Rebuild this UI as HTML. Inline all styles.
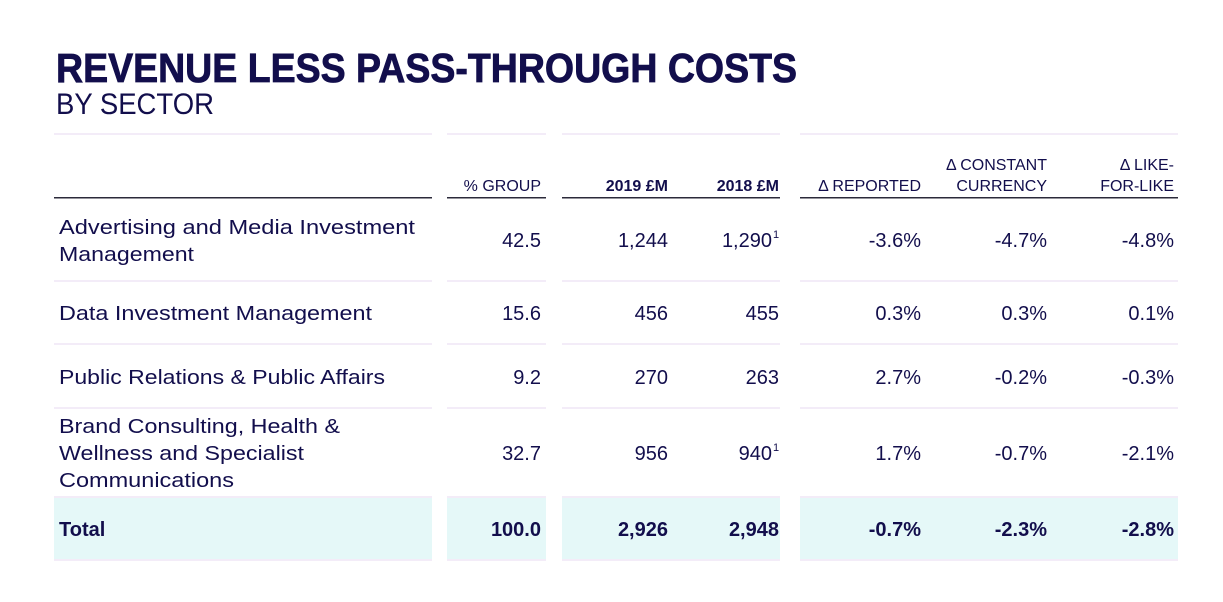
<!DOCTYPE html>
<html><head><meta charset="utf-8"><style>
html,body{margin:0;padding:0;background:#fff;}
svg{display:block;}
text{font-family:"Liberation Sans",sans-serif;fill:#120e4c;}
.h{font-size:16px;}
.b{font-size:20px;}
.r{text-anchor:end;}
.bold{font-weight:bold;}
</style></head><body>
<svg width="1223" height="602" viewBox="0 0 1223 602" xmlns="http://www.w3.org/2000/svg">
<text x="56" y="82" font-size="41" font-weight="bold" textLength="741" lengthAdjust="spacingAndGlyphs" stroke="#120e4c" stroke-width="0.8">REVENUE LESS PASS-THROUGH COSTS</text>
<text x="56" y="114" font-size="30" textLength="158" lengthAdjust="spacingAndGlyphs">BY SECTOR</text>

<g fill="#e5f8f8">
<rect x="54" y="497" width="378" height="63"/>
<rect x="447" y="497" width="99" height="63"/>
<rect x="562" y="497" width="218" height="63"/>
<rect x="800" y="497" width="378" height="63"/>
</g>
<g fill="#f3ecf8">
<rect x="54" y="133" width="378" height="2"/><rect x="447" y="133" width="99" height="2"/><rect x="562" y="133" width="218" height="2"/><rect x="800" y="133" width="378" height="2"/>
<rect x="54" y="280" width="378" height="2"/><rect x="447" y="280" width="99" height="2"/><rect x="562" y="280" width="218" height="2"/><rect x="800" y="280" width="378" height="2"/>
<rect x="54" y="343" width="378" height="2"/><rect x="447" y="343" width="99" height="2"/><rect x="562" y="343" width="218" height="2"/><rect x="800" y="343" width="378" height="2"/>
<rect x="54" y="407" width="378" height="2"/><rect x="447" y="407" width="99" height="2"/><rect x="562" y="407" width="218" height="2"/><rect x="800" y="407" width="378" height="2"/>
<rect x="54" y="496" width="378" height="2"/><rect x="447" y="496" width="99" height="2"/><rect x="562" y="496" width="218" height="2"/><rect x="800" y="496" width="378" height="2"/>
<rect x="54" y="559" width="378" height="2"/><rect x="447" y="559" width="99" height="2"/><rect x="562" y="559" width="218" height="2"/><rect x="800" y="559" width="378" height="2"/>
</g>
<g fill="#2b2a3a">
<rect x="54" y="197" width="378" height="1.5"/><rect x="447" y="197" width="99" height="1.5"/><rect x="562" y="197" width="218" height="1.5"/><rect x="800" y="197" width="378" height="1.5"/>
</g>
<text class="h r" x="541" y="191">% GROUP</text>
<text class="h r bold" x="668" y="191">2019 £M</text>
<text class="h r bold" x="779" y="191">2018 £M</text>
<text class="h r" x="921" y="191">Δ REPORTED</text>
<text class="h r" x="1047" y="170">Δ CONSTANT</text>
<text class="h r" x="1047" y="191">CURRENCY</text>
<text class="h r" x="1174" y="170">Δ LIKE-</text>
<text class="h r" x="1174" y="191">FOR-LIKE</text>

<text class="b" x="59" y="234" textLength="356" lengthAdjust="spacingAndGlyphs">Advertising and Media Investment</text>
<text class="b" x="59" y="261" textLength="135" lengthAdjust="spacingAndGlyphs">Management</text>
<text class="b r" x="541" y="247">42.5</text>
<text class="b r" x="668" y="247">1,244</text>
<text class="b r" x="772" y="247">1,290</text><text x="773" y="238" font-size="11">1</text>
<text class="b r" x="921" y="247">-3.6%</text>
<text class="b r" x="1047" y="247">-4.7%</text>
<text class="b r" x="1174" y="247">-4.8%</text>
<text class="b" x="59" y="320" textLength="313" lengthAdjust="spacingAndGlyphs">Data Investment Management</text>
<text class="b r" x="541" y="320">15.6</text>
<text class="b r" x="668" y="320">456</text>
<text class="b r" x="779" y="320">455</text>
<text class="b r" x="921" y="320">0.3%</text>
<text class="b r" x="1047" y="320">0.3%</text>
<text class="b r" x="1174" y="320">0.1%</text>
<text class="b" x="59" y="384" textLength="326" lengthAdjust="spacingAndGlyphs">Public Relations &amp; Public Affairs</text>
<text class="b r" x="541" y="384">9.2</text>
<text class="b r" x="668" y="384">270</text>
<text class="b r" x="779" y="384">263</text>
<text class="b r" x="921" y="384">2.7%</text>
<text class="b r" x="1047" y="384">-0.2%</text>
<text class="b r" x="1174" y="384">-0.3%</text>
<text class="b" x="59" y="433" textLength="281" lengthAdjust="spacingAndGlyphs">Brand Consulting, Health &amp;</text>
<text class="b" x="59" y="460" textLength="245" lengthAdjust="spacingAndGlyphs">Wellness and Specialist</text>
<text class="b" x="59" y="487" textLength="175" lengthAdjust="spacingAndGlyphs">Communications</text>
<text class="b r" x="541" y="460">32.7</text>
<text class="b r" x="668" y="460">956</text>
<text class="b r" x="772" y="460">940</text><text x="773" y="451" font-size="11">1</text>
<text class="b r" x="921" y="460">1.7%</text>
<text class="b r" x="1047" y="460">-0.7%</text>
<text class="b r" x="1174" y="460">-2.1%</text>
<text class="b bold" x="59" y="536">Total</text>
<text class="b r bold" x="541" y="536">100.0</text>
<text class="b r bold" x="668" y="536">2,926</text>
<text class="b r bold" x="779" y="536">2,948</text>
<text class="b r bold" x="921" y="536">-0.7%</text>
<text class="b r bold" x="1047" y="536">-2.3%</text>
<text class="b r bold" x="1174" y="536">-2.8%</text>
</svg>
</body></html>
